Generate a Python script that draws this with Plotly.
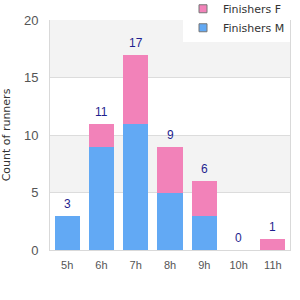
import plotly.graph_objects as go

categories = ["5h", "6h", "7h", "8h", "9h", "10h", "11h"]
male = [3, 9, 11, 5, 3, 0, 0]
female = [0, 2, 6, 4, 3, 0, 1]
totals = [m + f for m, f in zip(male, female)]

BLUE = "#62a9f4"
PINK = "#f282b9"

fig = go.Figure()
fig.add_trace(go.Bar(x=categories, y=male, marker=dict(color=BLUE, line=dict(width=0)),
                     showlegend=False, hoverinfo="skip"))
fig.add_trace(go.Bar(x=categories, y=female, marker=dict(color=PINK, line=dict(width=0)),
                     showlegend=False, hoverinfo="skip"))
# legend entries
fig.add_trace(go.Scatter(x=[None], y=[None], mode="markers", name="Finishers F",
                         marker=dict(symbol="square", size=8, color=PINK, line=dict(color="#777", width=1))))
fig.add_trace(go.Scatter(x=[None], y=[None], mode="markers", name="Finishers M",
                         marker=dict(symbol="square", size=8, color=BLUE, line=dict(color="#777", width=1))))

for c, t in zip(categories, totals):
    fig.add_annotation(x=c, y=t, text=str(t), showarrow=False, yanchor="bottom", yshift=3,
                       font=dict(color="#1f1f8f", size=12, family="Liberation Sans"))

for y0, y1 in [(5, 10), (15, 20)]:
    fig.add_shape(type="rect", xref="paper", yref="y", x0=0, x1=1, y0=y0, y1=y1,
                  fillcolor="#f3f3f3", line=dict(width=0), layer="below")

fig.update_layout(
    width=300, height=300,
    margin=dict(l=50, r=10, t=20, b=50, autoexpand=False),
    barmode="stack", bargap=0.27,
    plot_bgcolor="white", paper_bgcolor="white",
    font=dict(family="Liberation Sans", size=11, color="#444"),
    legend=dict(x=1, y=1 + 20 / 230 + 0.025, xanchor="right", yanchor="top", bgcolor="white",
                font=dict(size=11, color="#333", family="DejaVu Sans"), traceorder="normal",
                itemwidth=30, tracegroupgap=0),
    xaxis=dict(showgrid=False, showline=True, linecolor="#d9d9d9", ticks="outside",
               ticklen=5, tickcolor="rgba(0,0,0,0)",
               tickfont=dict(size=11, color="#555"), mirror=False),
    yaxis=dict(range=[0, 20], tickvals=[0, 5, 10, 15, 20], showgrid=True, gridcolor="#dcdcdc",
               showline=True, linecolor="#d9d9d9", mirror=True, zeroline=False,
               ticks="outside", ticklen=8, tickcolor="rgba(0,0,0,0)",
               title=dict(text="Count of runners", font=dict(size=11, color="#333", family="DejaVu Sans"),
                          standoff=16),
               tickfont=dict(size=13, color="#555")),
)
fig.write_html("out.html")
